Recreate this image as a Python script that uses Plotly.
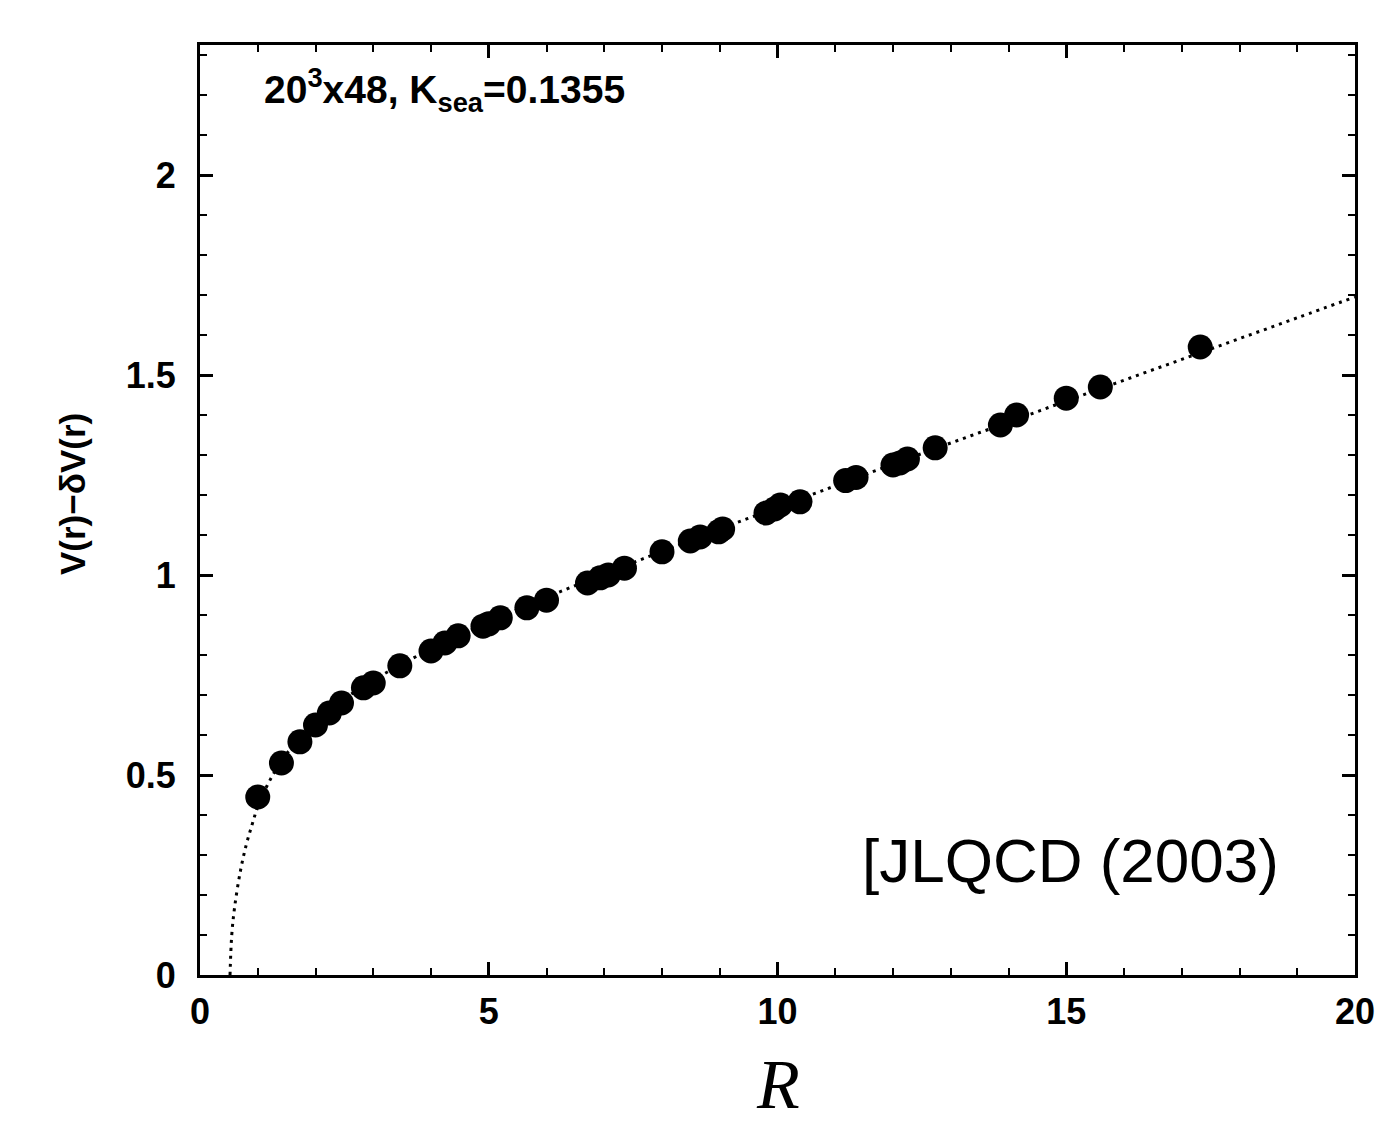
import plotly.graph_objects as go

# Static quark potential V(r) - dV(r) versus separation R (lattice units)
r_data = [1.00, 1.41, 1.73, 2.00, 2.24, 2.45, 2.83, 3.00, 3.46, 4.00, 4.24, 4.47,
          4.90, 5.00, 5.20, 5.66, 6.00, 6.71, 6.93, 7.07, 7.35, 8.00, 8.49, 8.66,
          8.98, 9.05, 9.80, 9.95, 10.05, 10.39, 11.18, 11.36, 12.00, 12.12, 12.25,
          12.73, 13.86, 14.14, 15.00, 15.59, 17.32]
v_data = [0.445, 0.530, 0.583, 0.625, 0.655, 0.680, 0.718, 0.730, 0.773, 0.810, 0.830, 0.848,
          0.872, 0.878, 0.893, 0.918, 0.937, 0.980, 0.993, 1.000, 1.017, 1.058, 1.085, 1.095,
          1.108, 1.115, 1.155, 1.165, 1.175, 1.183, 1.236, 1.244, 1.275, 1.280, 1.290,
          1.318, 1.375, 1.400, 1.442, 1.470, 1.570]

# Fitted potential curve (dotted)
r_fit = [0.52, 0.55, 0.60, 0.70, 0.80, 0.90, 1.00, 1.20, 1.50, 2.00, 2.50, 3.00, 4.00,
         5.00, 6.00, 7.00, 8.00, 9.00, 10.0, 11.0, 12.0, 13.0, 14.0, 15.0, 16.0, 17.0,
         18.0, 19.0, 20.0]
v_fit = [0.00, 0.10, 0.17, 0.26, 0.325, 0.375, 0.42, 0.484, 0.553, 0.632, 0.690, 0.737, 0.815,
         0.882, 0.944, 1.003, 1.059, 1.115, 1.169, 1.223, 1.277, 1.330, 1.382, 1.435, 1.487,
         1.539, 1.591, 1.643, 1.695]

x_ticks = [0, 5, 10, 15, 20]
y_ticks = [0, 0.5, 1, 1.5, 2]
y_tick_text = ["0", "0.5", "1", "1.5", "2"]

tick_font = dict(family="Liberation Sans, Arial", size=36, color="black", weight="bold")

fig = go.Figure()
fig.add_trace(go.Scatter(
    x=r_fit, y=v_fit, mode="lines", line_shape="spline",
    line=dict(color="black", width=3, dash="3px,5px"), hoverinfo="skip",
))
fig.add_trace(go.Scatter(
    x=r_data, y=v_data, mode="markers",
    marker=dict(color="black", size=25, line=dict(width=0)),
))

axis_common = dict(
    showline=True, linecolor="black", linewidth=3, mirror="ticks",
    ticks="inside", ticklen=13, tickwidth=2.5, tickcolor="black",
    showgrid=False, zeroline=False, tickfont=tick_font,
)

fig.update_xaxes(
    range=[0, 20], tickvals=x_ticks, ticktext=[str(v) for v in x_ticks],
    minor=dict(dtick=1, ticks="inside", ticklen=7, tickwidth=2, tickcolor="black", showgrid=False),
    ticklabelstandoff=3,
    **axis_common,
)
fig.update_yaxes(
    range=[0, 2.325], tickvals=y_ticks, ticktext=y_tick_text,
    minor=dict(dtick=0.1, ticks="inside", ticklen=7, tickwidth=2, tickcolor="black", showgrid=False),
    ticklabelstandoff=14,
    **axis_common,
)

fig.add_annotation(
    text="20<sup>3</sup>x48, K<sub>sea</sub>=0.1355",
    xref="paper", yref="paper", x=(262 - 200) / 1155, y=(975 - 90) / 930,
    xanchor="left", yanchor="middle", showarrow=False,
    font=dict(family="Liberation Sans, Arial", size=39, color="black", weight="bold"),
)
fig.add_annotation(
    text="[JLQCD (2003)",
    xref="paper", yref="paper", x=(860 - 200) / 1155, y=(975 - 860) / 930,
    xanchor="left", yanchor="middle", showarrow=False,
    font=dict(family="Liberation Sans, Arial", size=62, color="black"),
)
fig.add_annotation(
    text="V(r)\u2212\u03b4V(r)",
    xref="paper", yref="paper", x=(72 - 200) / 1155, y=(975 - 494) / 930,
    xanchor="center", yanchor="middle", textangle=-90, showarrow=False,
    font=dict(family="Liberation Sans, Arial", size=35, color="black", weight="bold"),
)
fig.add_annotation(
    text="<i>R</i>",
    xref="paper", yref="paper", x=(778 - 200) / 1155, y=(975 - 1084) / 930,
    xanchor="center", yanchor="middle", showarrow=False,
    font=dict(family="Liberation Serif, Times New Roman", size=70, color="black"),
)

fig.update_layout(
    width=1399, height=1123,
    margin=dict(l=200, r=44, t=45, b=148),
    paper_bgcolor="white", plot_bgcolor="white",
    showlegend=False,
)

fig.write_html("out.html")
